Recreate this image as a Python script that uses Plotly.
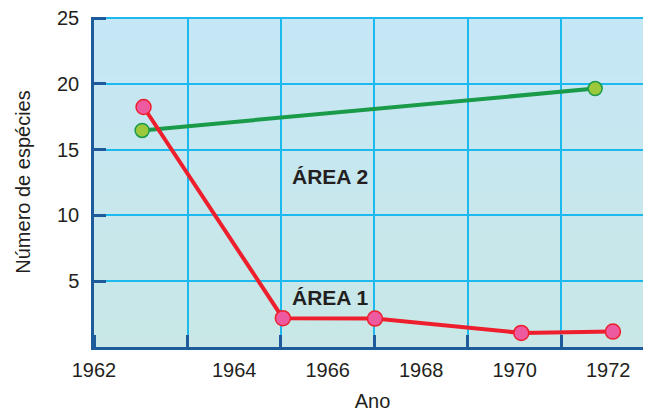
import base64
import struct
import zlib

import plotly.graph_objects as go

# ---- data ----
area1_years = [1962.06, 1965.04, 1967.01, 1970.14, 1972.1]
area1_values = [18.24, 2.19, 2.16, 1.07, 1.17]

area2_years = [1962.03, 1971.72]
area2_values = [16.46, 19.64]

x_tick_vals = [1961, 1964, 1966, 1968, 1970, 1972]
x_tick_text = ["1962", "1964", "1966", "1968", "1970", "1972"]
y_tick_vals = [5, 10, 15, 20, 25]

label_area1 = "ÁREA 1"
label_area2 = "ÁREA 2"

X_RANGE = [1961, 1972.915]
Y_RANGE = [0, 25.08]

FONT = "Liberation Sans, Arial, sans-serif"
GRID = "#1cb9ee"
DARK = "#1d5b9b"
TEXT = "#231f20"


def gradient_png(top, bottom, n=64):
    rows = b""
    for i in range(n):
        t = i / (n - 1)
        c = bytes(int(round(top[k] + (bottom[k] - top[k]) * t)) for k in range(3))
        rows += b"\x00" + c * 2

    def chunk(tag, data):
        return struct.pack(">I", len(data)) + tag + data + struct.pack(">I", zlib.crc32(tag + data) & 0xFFFFFFFF)

    png = b"\x89PNG\r\n\x1a\n"
    png += chunk(b"IHDR", struct.pack(">IIBBBBB", 2, n, 8, 2, 0, 0, 0))
    png += chunk(b"IDAT", zlib.compress(rows))
    png += chunk(b"IEND", b"")
    return "data:image/png;base64," + base64.b64encode(png).decode()


fig = go.Figure()

fig.add_trace(go.Scatter(
    x=area2_years, y=area2_values, mode="lines+markers",
    line=dict(color="#1a9b4a", width=4),
    marker=dict(size=14, color="#9cc83c", line=dict(color="#1a9b4a", width=1.5)),
    showlegend=False, cliponaxis=False,
))
fig.add_trace(go.Scatter(
    x=area1_years, y=area1_values, mode="lines+markers",
    line=dict(color="#ee1f2c", width=4),
    marker=dict(size=15, color="#ee5aa0", line=dict(color="#ee1f2c", width=1.5)),
    showlegend=False, cliponaxis=False,
))

fig.add_annotation(x=1966.05, y=12.96, text=label_area2, showarrow=False,
                   font=dict(family=FONT, size=21, color=TEXT, weight="bold"))
fig.add_annotation(x=1966.05, y=3.73, text=label_area1, showarrow=False,
                   font=dict(family=FONT, size=21, color=TEXT, weight="bold"))

fig.add_layout_image(
    source=gradient_png((197, 231, 246), (200, 231, 230)),
    xref="paper", yref="paper", x=0, y=1, sizex=1, sizey=1,
    xanchor="left", yanchor="top", sizing="stretch", layer="below",
)

fig.update_xaxes(
    range=X_RANGE, automargin=False,
    tickmode="array", tickvals=x_tick_vals, ticktext=x_tick_text,
    ticks="", showgrid=False, zeroline=False,
    showline=True, linecolor=DARK, linewidth=2.5,
    tickfont=dict(family=FONT, size=20, color=TEXT),
    ticklabelstandoff=3, ticklabeloverflow="allow",
    minor=dict(tick0=1961, dtick=2, showgrid=True, gridcolor=GRID, gridwidth=2,
               ticks="inside", ticklen=12, tickcolor=DARK, tickwidth=2.5),
    title=dict(text="Ano", font=dict(family=FONT, size=20, color=TEXT), standoff=24),
)
fig.update_yaxes(
    range=Y_RANGE, automargin=False,
    tickmode="array", tickvals=y_tick_vals,
    showgrid=True, gridcolor=GRID, gridwidth=2, zeroline=False,
    showline=True, linecolor=DARK, linewidth=2.5,
    ticks="inside", ticklen=12, tickcolor=DARK, tickwidth=2.5,
    tickfont=dict(family=FONT, size=20, color=TEXT),
    ticklabelstandoff=8, ticklabeloverflow="allow",
    title=dict(text="Número de espécies", font=dict(family=FONT, size=20, color=TEXT), standoff=22),
)

# the page body adds an 8 px offset, so the figure is sized to land the plot
# area where the reference has it
fig.update_layout(
    width=643, height=404,
    margin=dict(l=86, r=0, t=9, b=65),
    paper_bgcolor="white", plot_bgcolor="#c6e7ee",
    font=dict(family=FONT),
)

fig.write_html("out.html")
